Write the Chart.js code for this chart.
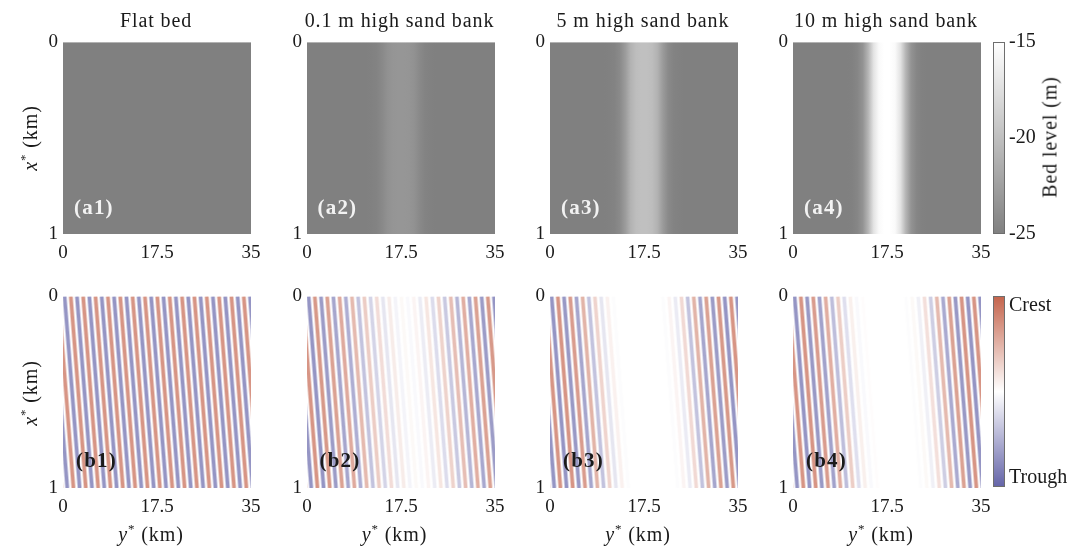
<!DOCTYPE html>
<html>
<head>
<meta charset="utf-8">
<script src="https://cdn.jsdelivr.net/npm/chart.js@4.4.0/dist/chart.umd.min.js"></script>
<style>
  body{margin:0;background:#fff;width:1088px;height:549px;position:relative;overflow:hidden;font-family:"Liberation Serif",serif;color:#1a1a1a;}
  canvas{position:absolute;}
  .t{position:absolute;white-space:nowrap;transform:translate(-50%,-50%);font-size:20px;letter-spacing:0.9px;}
  .rot{transform:translate(-50%,-50%) rotate(-90deg);}
  .pl{position:absolute;font-weight:bold;font-size:21px;letter-spacing:1.2px;transform:translate(0,-50%);}
  sup{font-size:13px;vertical-align:8px;line-height:0;}
</style>
</head>
<body>
<script>
// --- tick labels ---
const yKm = [0, 17.5, 35];     // y* (km), horizontal axis
const xKm = [0, 1];            // x* (km), vertical axis
const titles = ["Flat bed", "0.1 m high sand bank", "5 m high sand bank", "10 m high sand bank"];
const tagsA = ["(a1)", "(a2)", "(a3)", "(a4)"];
const tagsB = ["(b1)", "(b2)", "(b3)", "(b4)"];

const bankY = [0, 10, 11, 12, 13, 14, 15, 16, 17, 17.5, 18, 19, 20, 21, 22, 23, 24, 25, 35];
const bedA1 = [-25, -25, -25, -25, -25, -25, -25, -25, -25, -25, -25, -25, -25, -25, -25, -25, -25, -25, -25];
const bedA2 = [-25, -25, -24.98, -24.92, -24.75, -24.3, -23.7, -23.37, -23.3, -23.3, -23.3, -23.37, -23.7, -24.3, -24.75, -24.92, -24.98, -25, -25];
const bedA3 = [-25, -25, -24.95, -24.75, -24.25, -22.9, -21.1, -20.2, -20, -20, -20, -20.2, -21.1, -22.9, -24.25, -24.75, -24.95, -25, -25];
const bedA4 = [-25, -25, -24.9, -24.5, -23.5, -20.8, -17.2, -15.4, -15, -15, -15, -15.4, -17.2, -20.8, -23.5, -24.5, -24.9, -25, -25];
const bedTicks = [-25, -20, -15];

// --- sand wave crests / troughs: y* where they cross x* = 0 (km) ---
const crestTop  = [-3.15, -0.85, 1.45, 3.75, 6.05, 8.35, 10.65, 12.95, 15.25, 17.55, 19.85, 22.15, 24.45, 26.75, 29.05, 31.35, 33.65];
const troughTop = [-2.0, 0.3, 2.6, 4.9, 7.2, 9.5, 11.8, 14.1, 16.4, 18.7, 21.0, 23.3, 25.6, 27.9, 30.2, 32.5, 34.8];
const stripeShift = 2.8;   // drift in y* between x* = 0 and x* = 1 (km)

// relative amplitude of each crest / trough (0..1)
const ampC1 = [1, 1, 1, 1, 1, 1, 1, 1, 1, 1, 1, 1, 1, 1, 1, 1, 1];
const ampT1 = [1, 1, 1, 1, 1, 1, 1, 1, 1, 1, 1, 1, 1, 1, 1, 1, 1];
const ampC2 = [1, 1, 0.95, 0.85, 0.75, 0.6, 0.42, 0.28, 0.14, 0.05, 0.08, 0.2, 0.36, 0.55, 0.7, 0.85, 0.95];
const ampT2 = [1, 1, 0.9, 0.8, 0.7, 0.5, 0.35, 0.2, 0.08, 0.05, 0.14, 0.28, 0.45, 0.62, 0.78, 0.9, 1];
const ampC3 = [1, 1, 1, 0.9, 0.65, 0.35, 0.1, 0, 0, 0, 0, 0.08, 0.3, 0.65, 0.85, 0.95, 1];
const ampT3 = [1, 1, 0.95, 0.8, 0.5, 0.2, 0.03, 0, 0, 0, 0.03, 0.15, 0.5, 0.8, 0.9, 1, 1];
const ampC4 = [1, 1, 1, 0.9, 0.7, 0.4, 0.12, 0.02, 0, 0, 0, 0.05, 0.25, 0.6, 0.85, 1, 1];
const ampT4 = [1, 1, 0.95, 0.85, 0.55, 0.25, 0.05, 0, 0, 0, 0.02, 0.12, 0.4, 0.75, 0.95, 1, 1];
const waveTickPos = [0.9, -0.9];
const waveTickLab = ["Crest", "Trough"];

// --- layout ---
const cols = [63, 306.5, 550, 793];
const rows = [40.5, 295];
const PW = 188, PH = 193;
const PADL = 45, PADT = 15, PADR = 22, PADB = 38;
const CREST = "196,100,76", TROUGH = "100,100,168";
const tickFont = {family: "Liberation Serif", size: 19};

function gray(v){
  const g = Math.round(128 + 127 * (v + 25) / 10);
  return `rgb(${g},${g},${g})`;
}

function addCanvas(left, top, w, h){
  const c = document.createElement("canvas");
  c.width = w; c.height = h;
  c.style.left = left + "px"; c.style.top = top + "px";
  c.style.width = w + "px"; c.style.height = h + "px";
  document.body.appendChild(c);
  return c;
}

function addText(html, x, y, cls){
  const d = document.createElement("div");
  d.className = cls;
  d.innerHTML = html;
  d.style.left = x + "px"; d.style.top = y + "px";
  document.body.appendChild(d);
  return d;
}

function bedPlugin(levels){
  return {
    id: "bed",
    beforeDatasetsDraw(chart){
      const {ctx, chartArea: a, scales: {x}} = chart;
      const x0 = x.getPixelForValue(yKm[0]), x1 = x.getPixelForValue(yKm[2]);
      const g = ctx.createLinearGradient(x0, 0, x1, 0);
      bankY.forEach((y, i) => g.addColorStop((x.getPixelForValue(y) - x0) / (x1 - x0), gray(levels[i])));
      ctx.save();
      ctx.fillStyle = g;
      ctx.fillRect(a.left, a.top, a.right - a.left, a.bottom - a.top);
      ctx.restore();
    }
  };
}

// each crest/trough: soft outer band plus a stronger core
function stripe(p, rgb, amp, width, alpha){
  return {
    data: [{x: p, y: 0}, {x: p + stripeShift, y: 1}],
    showLine: true,
    borderColor: `rgba(${rgb},${(alpha * amp).toFixed(3)})`,
    borderWidth: width,
    borderCapStyle: "butt",
    pointRadius: 0,
    clip: 0
  };
}

function panelScales(){
  return {
    x: {
      type: "linear", min: 0, max: 35,
      grid: {display: false, drawTicks: false}, border: {display: false},
      afterBuildTicks: s => { s.ticks = yKm.map(v => ({value: v})); },
      afterFit: s => { s.height = PADB; },
      ticks: {font: tickFont, color: "#1a1a1a", padding: 8, maxRotation: 0}
    },
    y: {
      type: "linear", min: 0, max: 1, reverse: true,
      grid: {display: false, drawTicks: false}, border: {display: false},
      afterBuildTicks: s => { s.ticks = xKm.map(v => ({value: v})); },
      afterFit: s => { s.width = PADL; },
      ticks: {font: tickFont, color: "#1a1a1a", padding: 5}
    }
  };
}

function makePanel(col, row, datasets, plugins){
  const c = addCanvas(cols[col] - PADL, rows[row] - PADT, PW + PADL + PADR, PH + PADT + PADB);
  new Chart(c, {
    type: "scatter",
    data: {datasets: datasets},
    options: {
      responsive: false, animation: false, events: [],
      layout: {padding: {left: 0, top: PADT, right: PADR, bottom: 0}},
      plugins: {legend: {display: false}, tooltip: {enabled: false}},
      scales: panelScales()
    },
    plugins: plugins
  });
}

// top row: bed level
[bedA1, bedA2, bedA3, bedA4].forEach((lev, i) => makePanel(i, 0, [], [bedPlugin(lev)]));

// bottom row: sand wave patterns
[[ampC1, ampT1], [ampC2, ampT2], [ampC3, ampT3], [ampC4, ampT4]].forEach(([ac, at], i) => {
  const sets = [];
  crestTop.forEach((p, k) => sets.push(stripe(p, CREST, ac[k], 4.8, 0.3), stripe(p, CREST, ac[k], 3, 0.55)));
  troughTop.forEach((p, k) => sets.push(stripe(p, TROUGH, at[k], 4.8, 0.3), stripe(p, TROUGH, at[k], 3, 0.55)));
  makePanel(i, 1, sets, []);
});

// colourbars
function makeBar(top, h, min, max, tickVals, tickText, stops){
  const c = addCanvas(993, top - 15, 12 + 90, h + 30);
  new Chart(c, {
    type: "scatter",
    data: {datasets: []},
    options: {
      responsive: false, animation: false, events: [],
      layout: {padding: {left: 0, top: 15, right: 0, bottom: 15}},
      plugins: {legend: {display: false}, tooltip: {enabled: false}},
      scales: {
        x: {display: false, min: 0, max: 1},
        y: {
          position: "right", min: min, max: max,
          grid: {display: false, drawTicks: false}, border: {display: false},
          afterBuildTicks: s => { s.ticks = tickVals.map(v => ({value: v})); },
          afterFit: s => { s.width = 90; },
          ticks: {font: {family: "Liberation Serif", size: 20}, color: "#1a1a1a", padding: 4,
                  callback: (v, i) => tickText[i]}
        }
      }
    },
    plugins: [{
      id: "cbar",
      beforeDatasetsDraw(chart){
        const {ctx, chartArea: a, scales: {y}} = chart;
        const y0 = y.getPixelForValue(min), y1 = y.getPixelForValue(max);
        const g = ctx.createLinearGradient(0, y0, 0, y1);
        stops.forEach(([v, col]) => g.addColorStop((y.getPixelForValue(v) - y0) / (y1 - y0), col));
        ctx.save();
        ctx.fillStyle = g;
        ctx.fillRect(a.left, a.top, a.right - a.left, a.bottom - a.top);
        ctx.strokeStyle = "#6e6e6e";
        ctx.lineWidth = 1;
        ctx.strokeRect(a.left + 0.5, a.top + 0.5, a.right - a.left - 1, a.bottom - a.top - 1);
        ctx.restore();
      }
    }]
  });
}
makeBar(rows[0], PH + 1, -25, -15, bedTicks, bedTicks.map(String),
  [[-25, gray(-25)], [-15, gray(-15)]]);
makeBar(rows[1], PH, -1, 1, waveTickPos, waveTickLab,
  [[-1, `rgb(${TROUGH})`], [0, "rgb(255,255,255)"], [1, `rgb(${CREST})`]]);

// text
titles.forEach((t, i) => addText(t, cols[i] + PW / 2 - 1, 20, "t"));
rows.forEach(r => addText("<i>x</i><sup>*</sup> (km)", 30, r + PH / 2 + 1, "t rot"));
cols.forEach(c => addText("<i>y</i><sup>*</sup> (km)", c + PW / 2 - 6, 534, "t"));
addText("Bed level (m)", 1050, 137, "t rot");
tagsA.forEach((t, i) => { const d = addText(t, cols[i] + 11, 207, "pl"); d.style.color = "#f2f2f2"; });
tagsB.forEach((t, i) => { const d = addText(t, cols[i] + 13, 460, "pl"); d.style.color = "#1a1a1a"; });
</script>
</body>
</html>
